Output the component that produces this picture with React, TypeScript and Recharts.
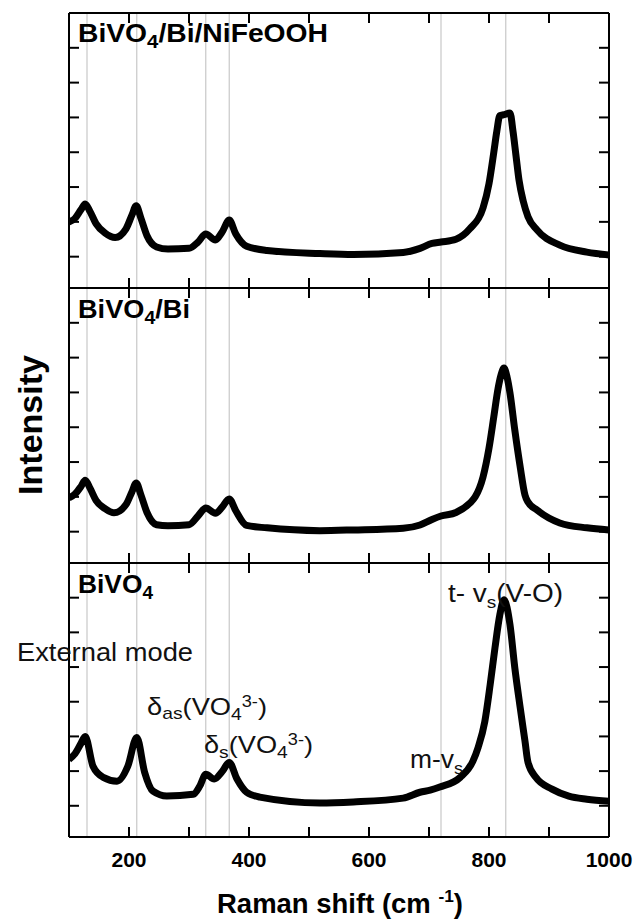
import React from "react";
import { LineChart, Line, XAxis, YAxis, ReferenceLine } from "recharts";

// Raman shift (cm-1) sample points and intensities (a.u., per-panel offset units)
const topShift = [100, 110, 120, 127, 135, 145, 160, 177, 195, 205, 212, 220, 230, 246, 265, 300, 315, 328, 344, 355, 367, 378, 396, 430, 518, 574, 657, 685, 705, 720, 745, 768, 790, 800, 808, 813, 818, 825, 835, 840, 845, 850, 857, 865, 880, 918, 963, 1000];
const topIntensity = [1.0, 1.1, 1.35, 1.51, 1.3, 0.95, 0.68, 0.55, 0.8, 1.2, 1.46, 1.1, 0.6, 0.28, 0.22, 0.24, 0.42, 0.65, 0.48, 0.7, 1.05, 0.65, 0.3, 0.18, 0.09, 0.06, 0.12, 0.24, 0.38, 0.42, 0.5, 0.8, 1.4, 2.1, 3.0, 3.6, 4.05, 4.08, 4.13, 3.6, 2.9, 2.2, 1.6, 1.15, 0.77, 0.33, 0.13, 0.05];

const midShift = [100, 110, 120, 127, 135, 145, 160, 175, 195, 205, 212, 220, 230, 246, 265, 300, 315, 328, 344, 355, 367, 378, 396, 430, 518, 574, 657, 685, 705, 720, 745, 768, 777, 790, 800, 808, 815, 820, 825, 830, 835, 843, 852, 860, 865, 880, 918, 963, 1000];
const midIntensity = [0.97, 1.08, 1.3, 1.48, 1.25, 0.9, 0.66, 0.54, 0.78, 1.15, 1.4, 1.05, 0.55, 0.2, 0.17, 0.2, 0.45, 0.68, 0.53, 0.7, 0.94, 0.6, 0.18, 0.11, 0.03, 0.05, 0.1, 0.19, 0.35, 0.45, 0.55, 0.82, 1.0, 1.57, 2.4, 3.3, 4.1, 4.5, 4.7, 4.45, 3.98, 2.92, 1.86, 1.05, 0.85, 0.62, 0.25, 0.11, 0.05];

const botShift = [100, 110, 120, 127, 140, 157, 180, 198, 213, 226, 240, 263, 307, 318, 328, 342, 355, 367, 380, 396, 418, 518, 574, 657, 685, 702, 718, 752, 773, 782, 793, 802, 810, 818, 825, 835, 843, 852, 860, 865, 878, 905, 933, 963, 1000];
const botIntensity = [1.34, 1.5, 1.8, 2.0, 1.14, 0.82, 0.71, 1.14, 1.97, 0.97, 0.42, 0.28, 0.33, 0.57, 0.91, 0.77, 0.98, 1.25, 0.77, 0.39, 0.25, 0.08, 0.11, 0.22, 0.39, 0.45, 0.54, 0.82, 1.28, 1.69, 2.43, 3.5, 4.56, 5.5, 5.94, 5.22, 3.98, 2.83, 1.86, 1.25, 0.82, 0.48, 0.28, 0.19, 0.13];

const shiftTicks = [100, 200, 300, 400, 500, 600, 700, 800, 900, 1000];
const intensityTicks = [0, 1, 2, 3, 4, 5, 6];
const peakLines = [130, 213, 328, 367, 720, 828];

const FONT = "'Liberation Sans', Arial, sans-serif";
const frame = { stroke: "#000", strokeWidth: 2 };

// tick marks only, no label
const NoLabel = () => <g />;

// labels sit below the frame, tick marks stay inside
const ShiftTick = (props: any) => {
  const { x, y, payload } = props;
  if (payload.value % 200 !== 0) return <g />;
  return (
    <text x={x} y={y + 40} textAnchor="middle" fontSize={21} fontWeight="bold" fontFamily={FONT} fill="#000">
      {payload.value}
    </text>
  );
};

interface PanelProps {
  shift: number[];
  intensity: number[];
  top: number;
  plotHeight: number;
  bottomAxis?: boolean;
}

function Panel({ shift, intensity, top, plotHeight, bottomAxis }: PanelProps) {
  const data = shift.map((x, i) => ({ x, v: intensity[i] }));
  const bottom = bottomAxis ? 85 : 5;
  return (
    <div style={{ position: "absolute", left: 0, top }}>
      <LineChart
        width={638}
        height={plotHeight + 5 + bottom}
        data={data}
        margin={{ top: 5, right: 29, bottom, left: 69 }}
      >
        <XAxis
          type="number"
          dataKey="x"
          domain={[100, 1000]}
          allowDataOverflow
          ticks={shiftTicks}
          interval={0}
          mirror
          tickSize={10}
          tickMargin={0}
          axisLine={frame}
          tickLine={frame}
          tick={bottomAxis ? ShiftTick : NoLabel}
        />
        <XAxis
          xAxisId="top"
          orientation="top"
          type="number"
          dataKey="x"
          domain={[100, 1000]}
          allowDataOverflow
          ticks={shiftTicks}
          interval={0}
          mirror
          tick={NoLabel}
          tickSize={10}
          axisLine={frame}
          tickLine={frame}
        />
        <YAxis
          type="number"
          domain={[-0.9, 7]}
          allowDataOverflow
          ticks={intensityTicks}
          interval={0}
          mirror
          tick={NoLabel}
          tickSize={10}
          axisLine={frame}
          tickLine={frame}
        />
        <YAxis
          yAxisId="right"
          orientation="right"
          type="number"
          domain={[-0.9, 7]}
          allowDataOverflow
          ticks={intensityTicks}
          interval={0}
          mirror
          tick={NoLabel}
          tickSize={10}
          axisLine={frame}
          tickLine={frame}
        />
        {peakLines.map((p) => (
          <ReferenceLine key={p} x={p} stroke="#bdbdbd" strokeWidth={1} />
        ))}
        <Line
          type="monotone"
          dataKey="v"
          stroke="#000"
          strokeWidth={7}
          strokeLinejoin="round"
          dot={false}
          isAnimationActive={false}
        />
      </LineChart>
    </div>
  );
}

function Labels() {
  const bold = { fontFamily: FONT, fontWeight: "bold" as const, fill: "#000" };
  const reg = { fontFamily: FONT, fill: "#111" };
  return (
    <svg
      width={638}
      height={922}
      style={{ position: "absolute", left: 0, top: 0, pointerEvents: "none" }}
    >
      <text x={78} y={42} fontSize={25} textLength={250} lengthAdjust="spacingAndGlyphs" {...bold}>
        BiVO<tspan dy={6} fontSize={18}>4</tspan>
        <tspan dy={-6}>/Bi/NiFeOOH</tspan>
      </text>
      <text x={78} y={318} fontSize={25} textLength={112} lengthAdjust="spacingAndGlyphs" {...bold}>
        BiVO<tspan dy={6} fontSize={18}>4</tspan>
        <tspan dy={-6}>/Bi</tspan>
      </text>
      <text x={78} y={593} fontSize={25} textLength={75} lengthAdjust="spacingAndGlyphs" {...bold}>
        BiVO<tspan dy={6} fontSize={18}>4</tspan>
      </text>

      <text x={17} y={661} fontSize={25} textLength={176} lengthAdjust="spacingAndGlyphs" {...reg}>
        External mode
      </text>
      <text x={147} y={715} fontSize={24} textLength={120} lengthAdjust="spacingAndGlyphs" {...reg}>
        δ<tspan dy={4} fontSize={17}>as</tspan>
        <tspan dy={-4}>(VO</tspan>
        <tspan dy={5} fontSize={17}>4</tspan>
        <tspan dy={-13} fontSize={16}>3-</tspan>
        <tspan dy={8}>)</tspan>
      </text>
      <text x={204} y={753} fontSize={24} textLength={109} lengthAdjust="spacingAndGlyphs" {...reg}>
        δ<tspan dy={5} fontSize={17}>s</tspan>
        <tspan dy={-5}>(VO</tspan>
        <tspan dy={5} fontSize={17}>4</tspan>
        <tspan dy={-13} fontSize={16}>3-</tspan>
        <tspan dy={8}>)</tspan>
      </text>
      <text x={448} y={602} fontSize={25} textLength={115} lengthAdjust="spacingAndGlyphs" {...reg}>
        t- v<tspan dy={6} fontSize={17}>s</tspan>
        <tspan dy={-6}>(V-O)</tspan>
      </text>
      <text x={410} y={768} fontSize={25} textLength={53} lengthAdjust="spacingAndGlyphs" {...reg}>
        m-v<tspan dy={6} fontSize={17}>s</tspan>
      </text>

      <text
        x={42}
        y={425}
        fontSize={34}
        textAnchor="middle"
        transform="rotate(-90 42 425)"
        {...bold}
      >
        Intensity
      </text>
      <text x={217} y={913} fontSize={27} textLength={246} lengthAdjust="spacingAndGlyphs" {...bold}>
        Raman shift (cm <tspan dy={-11} fontSize={17}>-1</tspan>
        <tspan dy={11}>)</tspan>
      </text>
    </svg>
  );
}

export default function App() {
  return (
    <div style={{ position: "absolute", left: 0, top: 0, width: 638, height: 922, background: "#fff" }}>
      <Panel shift={topShift} intensity={topIntensity} top={8} plotHeight={275} />
      <Panel shift={midShift} intensity={midIntensity} top={283} plotHeight={275} />
      <Panel shift={botShift} intensity={botIntensity} top={558} plotHeight={274} bottomAxis />
      <Labels />
    </div>
  );
}
